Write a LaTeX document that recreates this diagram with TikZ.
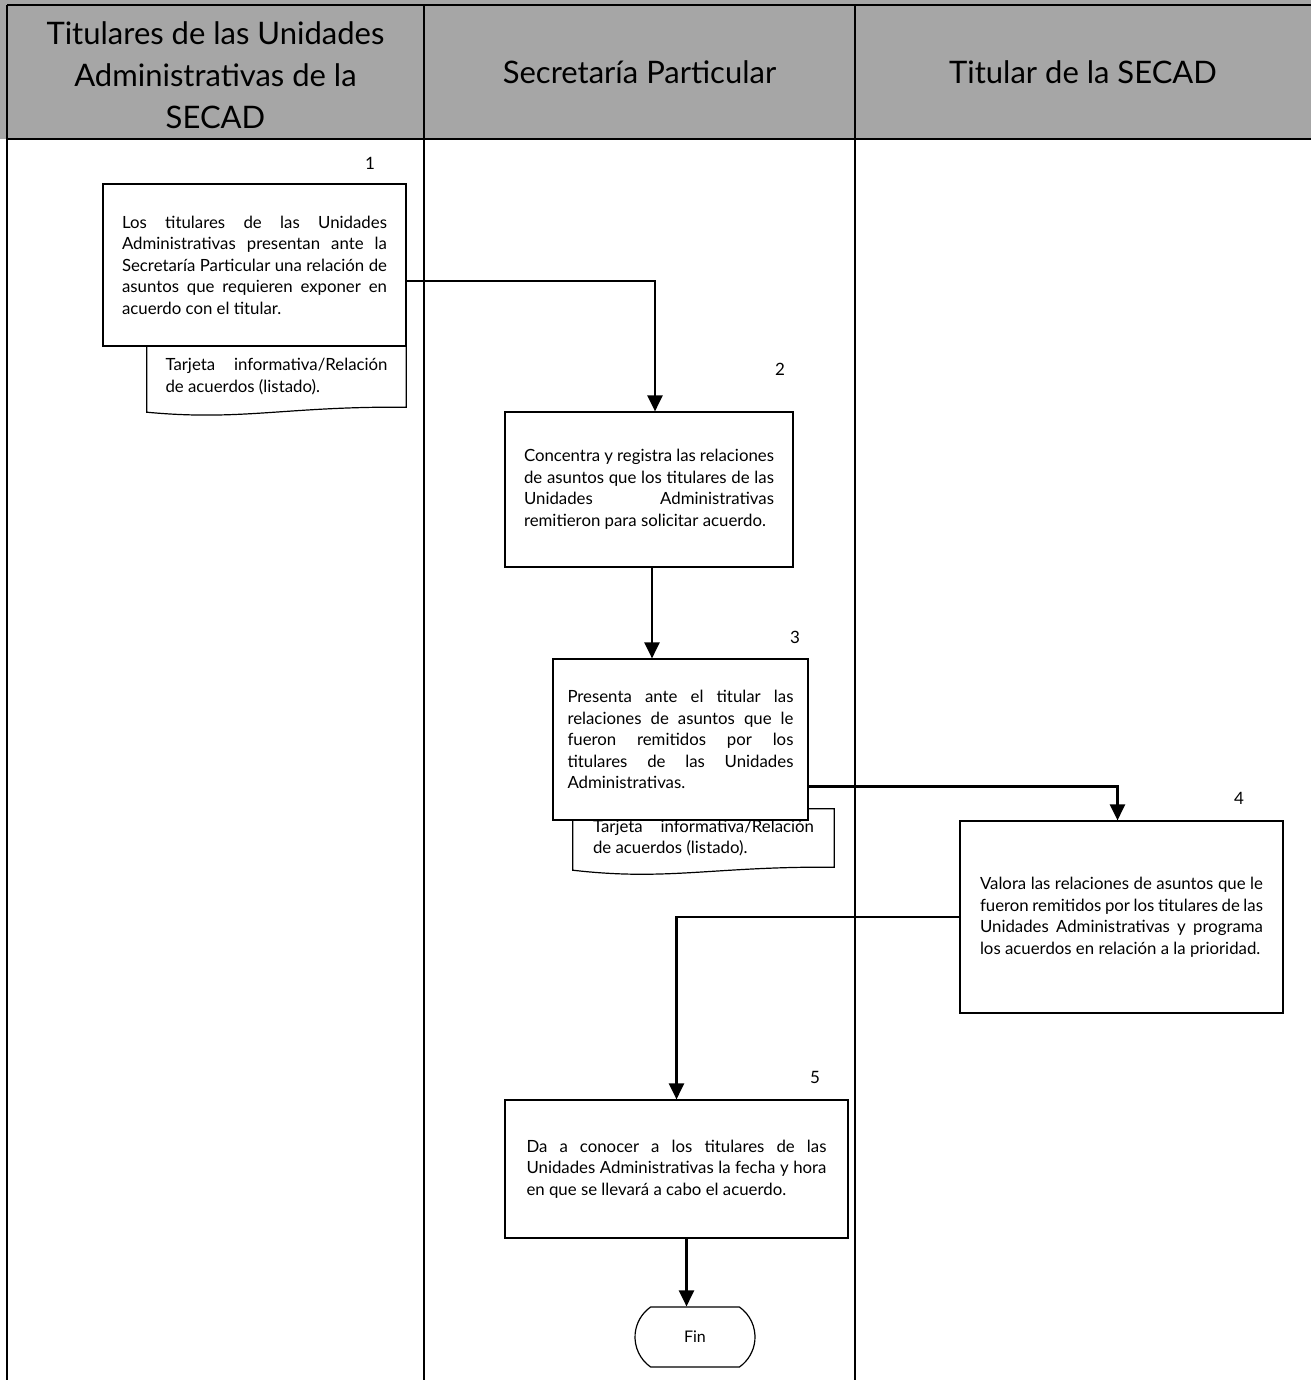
\documentclass[tikz,border=0pt]{standalone}
\usepackage{fontspec}
\setmainfont{Lato}
\usetikzlibrary{arrows.meta,shapes.misc,calc}

\definecolor{headgray}{HTML}{A6A6A6}

\begin{document}
\begin{tikzpicture}[x=1pt,y=-1pt,
  lane/.style={line width=2.6pt},
  stepbox/.style={draw, line width=1.2pt, fill=white, inner sep=0pt,
    align=justify, font=\fontsize{16.8}{21.5}\selectfont},
  doctext/.style={inner sep=0pt, align=justify,
    font=\fontsize{16.8}{21.5}\selectfont},
  docline/.style={line width=1.2pt},
  headtext/.style={align=center, font=\fontsize{31}{42}\selectfont},
  stepnum/.style={inner sep=0pt, font=\fontsize{17}{20}\selectfont},
  flow/.style={line width=2.4pt, -{Triangle[length=16pt,width=15pt]}},
  endbox/.style={draw, line width=1.2pt, fill=white, rounded rectangle,
    rounded rectangle arc length=110, minimum width=120pt, minimum height=60pt,
    inner sep=0pt, font=\fontsize{16}{19}\selectfont}
]
\useasboundingbox (0,0) rectangle (1311,1380);
\fill[white] (0,0) rectangle (1311,1380);

% header band
\fill[headgray] (0,0) rectangle (1311,139);
\node[headtext] (h1) at (215.5,75) {Titulares de las Unidades\\Administrativas de la\\SECAD};
\node[headtext] (h2) at (639.5,72) {Secretaría Particular};
\node[headtext] (h3) at (1083,72) {Titular de la SECAD};

% lane lines
\draw[lane] (7,5) -- (1311,5);
\draw[lane] (7,139) -- (1311,139);
\draw[lane] (7,5) -- (7,1380);
\draw[lane] (424,5) -- (424,1380);
\draw[lane] (855,5) -- (855,1380);

% documents (drawn first, boxes sit over them)
\node[doctext, minimum width=259pt, minimum height=61pt, text width=222pt] (d1) at (276.5,376.5)
  {Tarjeta informativa/Relación\linebreak de acuerdos (listado).};
\draw[docline] (d1.north west) -- (d1.north east) -- (d1.south east)
  .. controls ($(d1.south east)+(-120,-1)$) and ($(d1.south west)+(95,14)$) .. ($(d1.south west)+(0,5)$) -- cycle;

\node[doctext, minimum width=261pt, minimum height=58pt, text width=221pt] (d3) at (703.5,838)
  {Tarjeta informativa/Relación\linebreak de acuerdos (listado).};
\draw[docline] (d3.north west) -- (d3.north east) -- (d3.south east)
  .. controls ($(d3.south east)+(-120,-1)$) and ($(d3.south west)+(95,14)$) .. ($(d3.south west)+(0,3)$) -- cycle;

% process steps
\node[stepbox, minimum width=303pt, minimum height=162pt, text width=265pt] (b1) at (254.5,265)
  {Los titulares de las Unidades\linebreak Administrativas presentan ante la\linebreak
   Secretaría Particular una relación de\linebreak asuntos que requieren exponer en\linebreak
   acuerdo con el titular.};
\node[stepbox, minimum width=288pt, minimum height=155pt, text width=250pt] (b2) at (649,489.5)
  {Concentra y registra las relaciones\linebreak de asuntos que los titulares de las\linebreak
   Unidades Administrativas\linebreak remitieron para solicitar acuerdo.};
\node[stepbox, minimum width=255pt, minimum height=161pt, text width=226pt] (b3) at (680.5,739.5)
  {Presenta ante el titular las\linebreak relaciones de asuntos que le\linebreak
   fueron remitidos por los\linebreak titulares de las Unidades\linebreak Administrativas.};
\node[stepbox, minimum width=323pt, minimum height=192pt, text width=283pt] (b4) at (1121.5,917)
  {Valora las relaciones de asuntos que le\linebreak fueron remitidos por los titulares de las\linebreak
   Unidades Administrativas y programa\linebreak los acuerdos en relación a la prioridad.};
\node[stepbox, minimum width=343pt, minimum height=138pt, text width=300pt] (b5) at (676.5,1169)
  {Da a conocer a los titulares de las\linebreak Unidades Administrativas la fecha y hora\linebreak
   en que se llevará a cabo el acuerdo.};
\node[endbox] (fin) at (695,1337) {Fin};

% step numbers
\node[stepnum] (n1) at (370,163) {1};
\node[stepnum] (n2) at (780,369) {2};
\node[stepnum] (n3) at (795,637) {3};
\node[stepnum] (n4) at (1239,798) {4};
\node[stepnum] (n5) at (815,1077) {5};

% connectors
\coordinate (o1) at ([yshift=-16pt]b1.east);
\coordinate (i2) at ([xshift=6pt]b2.north);
\draw[flow] (o1) -| (i2);
\coordinate (o2) at ([xshift=3pt]b2.south);
\draw[flow] (o2) -- (o2 |- b3.north);
\coordinate (o3) at ([yshift=-47pt]b3.east);
\coordinate (i4) at ([xshift=-4pt]b4.north);
\draw[flow] (o3) -| (i4);
\draw[flow] (b4.west) -| (b5.north);
\coordinate (o5) at ([xshift=10pt]b5.south);
\draw[flow] (o5) -- (o5 |- fin.north);
\end{tikzpicture}
\end{document}
